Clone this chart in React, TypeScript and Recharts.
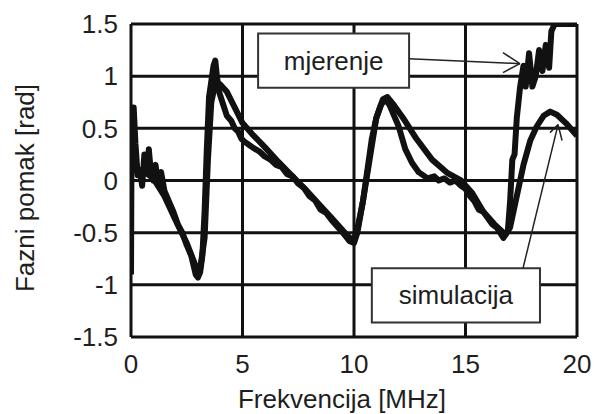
import React from "react";
import {
  LineChart,
  Line,
  XAxis,
  YAxis,
  CartesianGrid,
  ReferenceArea,
  ReferenceLine,
} from "recharts";

// Frequency [MHz] and phase [rad]
const mjerenjeX = [
  0, 0.02, 0.12, 0.2, 0.3, 0.4, 0.5, 0.6, 0.7, 0.8, 0.9, 1.0, 1.1, 1.2, 1.35,
  1.5, 1.7, 1.9, 2.1, 2.3, 2.5, 2.7, 2.9, 3.0, 3.1, 3.2, 3.3, 3.4, 3.5, 3.6,
  3.7, 3.78, 3.85, 3.95, 4.1, 4.3, 4.5, 4.65, 4.8, 4.95, 5.1, 5.3, 5.5, 5.75,
  6.0, 6.25, 6.5, 6.75, 7.0, 7.25, 7.5, 7.75, 8.0, 8.25, 8.5, 8.75, 9.0, 9.25,
  9.5, 9.8, 10.0, 10.15, 10.4, 10.6, 10.8, 11.0, 11.2, 11.4, 11.6, 11.8, 12.0,
  12.3, 12.6, 12.9, 13.3, 13.6, 13.8, 14.05, 14.3, 14.55, 14.8, 15.0, 15.2,
  15.4, 15.6, 15.8, 16.0, 16.2, 16.4, 16.7, 16.9, 17.0, 17.1, 17.2, 17.3,
  17.45, 17.6, 17.7, 17.85, 18.0, 18.15, 18.3, 18.45, 18.6, 18.75, 18.85, 19.0,
  20.0,
];
const mjerenjeY = [
  -0.9, 0.15, 0.7, 0.35, 0.05, 0.1, -0.05, 0.25, 0.1, 0.3, 0.05, 0.0, 0.15,
  -0.02, 0.08, -0.1, -0.2, -0.3, -0.42, -0.5, -0.62, -0.72, -0.9, -0.93, -0.88,
  -0.72, -0.3, 0.3, 0.8, 0.95, 1.1, 1.15, 1.0, 0.85, 0.75, 0.62, 0.57, 0.5,
  0.47, 0.4, 0.37, 0.34, 0.31, 0.28, 0.23, 0.2, 0.15, 0.13, 0.06, 0.04, -0.03,
  -0.07, -0.15, -0.19, -0.28, -0.31, -0.38, -0.44, -0.5, -0.58, -0.6, -0.5,
  -0.2, 0.1, 0.4, 0.6, 0.72, 0.78, 0.72, 0.62, 0.52, 0.3, 0.17, 0.08, 0.02,
  0.04, 0.0, 0.02, -0.02, 0.0, -0.05, -0.08, -0.15, -0.2, -0.28, -0.3, -0.36,
  -0.42, -0.45, -0.55, -0.48, -0.2, 0.2, 0.25, 0.6, 0.9, 1.1, 0.9, 1.22, 0.9,
  1.0, 1.25, 1.05, 1.3, 1.08, 1.43, 1.5, 1.5,
];

const simulacijaX = [
  0, 0.5, 1.0, 1.5, 2.0, 2.5, 2.9, 3.1, 3.3, 3.45, 3.6, 3.8, 4.0, 4.3, 4.7, 5.0,
  5.5, 6.0, 6.6, 7.2, 7.8, 8.4, 9.0, 9.5, 9.9, 10.1, 10.4, 10.7, 11.0, 11.3,
  11.5, 11.8, 12.2, 12.8, 13.5, 14.2, 14.8, 15.3, 15.8, 16.3, 16.8, 17.0, 17.3,
  17.6, 17.9, 18.2, 18.5, 18.8, 19.1, 19.5, 20.0,
];
const simulacijaY = [
  0.1, 0.1, 0.02, -0.15, -0.38, -0.6, -0.82, -0.85, -0.55, 0.2, 0.75, 0.95,
  0.92, 0.85, 0.68, 0.55, 0.43, 0.32, 0.18, 0.05, -0.08, -0.22, -0.36, -0.48,
  -0.57, -0.52, -0.2, 0.2, 0.6, 0.78, 0.8, 0.72, 0.6, 0.4, 0.2, 0.07, 0.0,
  -0.12, -0.3, -0.42, -0.52, -0.45, -0.15, 0.15, 0.38, 0.52, 0.62, 0.66, 0.63,
  0.55, 0.43,
];

const xTicks = [0, 5, 10, 15, 20];
const yTicks = [-1.5, -1, -0.5, 0, 0.5, 1, 1.5];

const mjerenje = mjerenjeX.map((f, i) => ({ f, v: mjerenjeY[i] }));
const simulacija = simulacijaX.map((f, i) => ({ f, v: simulacijaY[i] }));

const FONT = "'Liberation Sans', Arial, sans-serif";
const TXT = "#1e1e1e";
const INK = "#111";

export default function App() {
  return (
    <div style={{ position: "absolute", left: 0, top: 0, background: "#fff" }}>
      <LineChart
        width={596}
        height={414}
        margin={{ top: 24, right: 19, bottom: 0, left: 0 }}
        style={{ fontFamily: FONT }}
      >
        <CartesianGrid stroke={INK} strokeWidth={3} />
        <XAxis
          type="number"
          dataKey="f"
          domain={[0, 20]}
          ticks={xTicks}
          allowDataOverflow
          height={77}
          axisLine={false}
          tickLine={false}
          tickSize={0}
          tickMargin={18}
          tick={{ fill: TXT, fontSize: 26, fontFamily: FONT }}
          label={{
            content: () => (
              <text
                x={342}
                y={408}
                textAnchor="middle"
                fontSize={26}
                fill={TXT}
                fontFamily={FONT}
              >
                Frekvencija [MHz]
              </text>
            ),
          }}
        />
        <YAxis
          type="number"
          domain={[-1.5, 1.5]}
          ticks={yTicks}
          allowDataOverflow
          width={131}
          axisLine={false}
          tickLine={false}
          tickSize={0}
          tickMargin={13}
          tickFormatter={(v: number) => String(v)}
          tick={{ fill: TXT, fontSize: 26, fontFamily: FONT }}
          label={{
            content: () => (
              <text
                x={34}
                y={188}
                transform="rotate(-90 34 188)"
                textAnchor="middle"
                fontSize={26}
                fill={TXT}
                fontFamily={FONT}
              >
                Fazni pomak [rad]
              </text>
            ),
          }}
        />
        <Line
          data={simulacija}
          dataKey="v"
          type="linear"
          stroke={INK}
          strokeWidth={6}
          dot={false}
          strokeLinejoin="round"
          isAnimationActive={false}
        />
        <Line
          data={mjerenje}
          dataKey="v"
          type="linear"
          stroke={INK}
          strokeWidth={6}
          dot={false}
          strokeLinejoin="round"
          isAnimationActive={false}
        />
        <ReferenceArea
          x1={5.7}
          x2={12.47}
          y1={0.89}
          y2={1.41}
          fill="#fff"
          fillOpacity={1}
          stroke="#333"
          strokeWidth={2}
          label={{ value: "mjerenje", position: "center", fontSize: 26, fill: TXT, fontFamily: FONT }}
        />
        <ReferenceArea
          x1={10.8}
          x2={18.34}
          y1={-1.36}
          y2={-0.84}
          fill="#fff"
          fillOpacity={1}
          stroke="#333"
          strokeWidth={2}
          label={{ value: "simulacija", position: "center", fontSize: 26, fill: TXT, fontFamily: FONT }}
        />
        <ReferenceLine segment={[{ x: 12.47, y: 1.167 }, { x: 17.44, y: 1.12 }]} stroke="#222" strokeWidth={1.5} />
        <ReferenceLine segment={[{ x: 16.68, y: 1.225 }, { x: 17.44, y: 1.12 }]} stroke="#222" strokeWidth={1.5} />
        <ReferenceLine segment={[{ x: 16.68, y: 1.034 }, { x: 17.44, y: 1.12 }]} stroke="#222" strokeWidth={1.5} />
        <ReferenceLine segment={[{ x: 17.58, y: -0.84 }, { x: 19.15, y: 0.536 }]} stroke="#222" strokeWidth={1.5} />
        <ReferenceLine segment={[{ x: 18.79, y: 0.459 }, { x: 19.15, y: 0.536 }]} stroke="#222" strokeWidth={1.5} />
        <ReferenceLine segment={[{ x: 19.33, y: 0.383 }, { x: 19.15, y: 0.536 }]} stroke="#222" strokeWidth={1.5} />
      </LineChart>
    </div>
  );
}
